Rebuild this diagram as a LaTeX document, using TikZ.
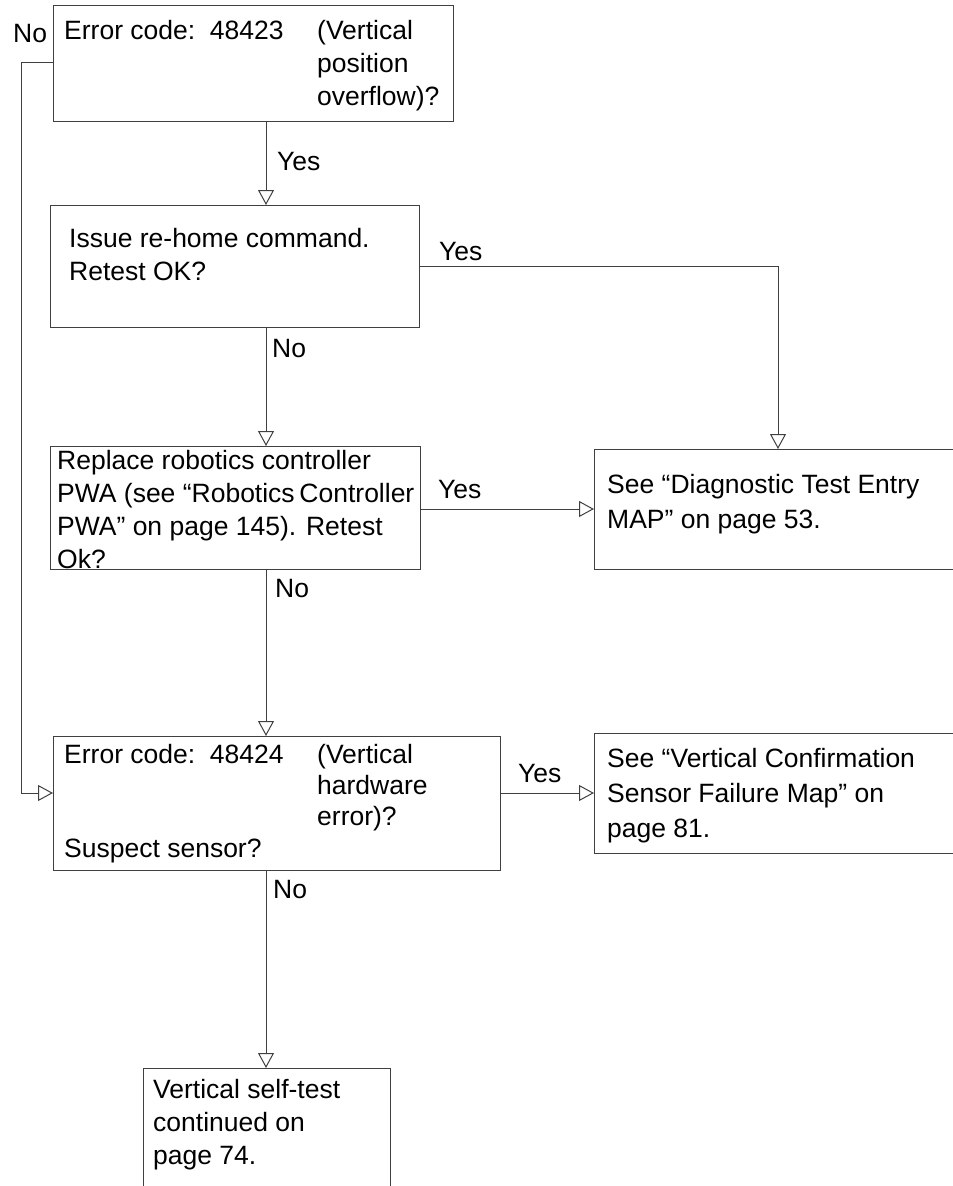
\documentclass[tikz,border=0pt]{standalone}
\usepackage{fontspec}
\setmainfont{Liberation Sans}
\usetikzlibrary{arrows.meta}
% left-aligned block whose baseline is the first line
\newcommand{\mylines}[1]{\begin{tabular}[t]{@{}l@{}}#1\end{tabular}}
\begin{document}
\begin{tikzpicture}[x=1pt,y=-1pt,
  box/.style={draw=black!75, line width=1pt, inner sep=0pt, anchor=north west},
  txt/.style={anchor=base west, inner sep=0pt, font=\fontsize{26.5}{33}\selectfont},
  lbl/.style={anchor=base west, inner sep=0pt, font=\fontsize{26.5}{33}\selectfont},
  link/.style={draw=black!75, line width=1pt, -{Triangle[open, width=16pt, length=15pt]}}]
\useasboundingbox (0,0) rectangle (953,1186);
\clip (0,0) rectangle (953,1186);

% boxes
\node[box, minimum width=400pt, minimum height=116pt] (b1) at (53,5) {};
\node[box, minimum width=369pt, minimum height=122pt] (b2) at (50,205) {};
\node[box, minimum width=370pt, minimum height=123pt] (b3) at (50,446) {};
\node[box, minimum width=400pt, minimum height=120pt] (diag) at (594,449) {};
\node[box, minimum width=447pt, minimum height=134pt] (b4) at (53,736) {};
\node[box, minimum width=400pt, minimum height=120pt] (sens) at (594,733) {};
\node[box, minimum width=247pt, minimum height=200pt] (b5) at (143,1068) {};

% box texts
\node[txt] (t1a) at (64,39) {Error code:\ \ 48423};
\node[txt] (t1b) at (317,39) {\mylines{(Vertical\\position\\overflow)?}};
\node[txt] (t2) at (69,247) {\mylines{Issue re-home command.\\Retest OK?}};
\node[txt] (t3) at (57,469) {\mylines{Replace robotics controller\\PWA (see “Robotics\hspace{-0.1em} Controller\\PWA” on page 145). Retest\\Ok?}};
\node[txt, font=\fontsize{26.5}{35}\selectfont] (td) at (607,493) {\mylines{See “Diagnostic Test Entry\\MAP” on page 53.}};
\node[txt, font=\fontsize{26.5}{35}\selectfont] (ts) at (607,767) {\mylines{See “Vertical Confirmation\\Sensor Failure Map” on\\page 81.}};
\node[txt] (t4a) at (64,763) {Error code:\ \ 48424};
\node[txt, font=\fontsize{26.5}{31}\selectfont] (t4b) at (317,763) {\mylines{(Vertical\\hardware\\error)?}};
\node[txt] (t4c) at (64,857) {Suspect sensor?};
\node[txt] (t5) at (153,1098) {\mylines{Vertical self-test\\continued on\\page 74.}};

% reference positions for the connectors
\coordinate (spine) at (266,0);
\coordinate (xr) at (778,0);
\coordinate (loopx) at (21,0);
\coordinate (y0) at (0,62);
\coordinate (y1) at (0,266);
\coordinate (y2) at (0,509);
\coordinate (y3) at (0,793);

% connectors
\draw[link] (spine |- b1.south) -- (spine |- b2.north);
\draw[link] (spine |- b2.south) -- (spine |- b3.north);
\draw[link] (spine |- b3.south) -- (spine |- b4.north);
\draw[link] (spine |- b4.south) -- (spine |- b5.north);
\draw[link] (b2.east |- y1) -| (xr |- diag.north);
\draw[link] (b3.east |- y2) -- (diag.west |- y2);
\draw[link] (b4.east |- y3) -- (sens.west |- y3);
\draw[link] (b1.west |- y0) -| (loopx |- y3) -- (b4.west |- y3);

% branch labels
\node[lbl] (l1) at (13,42) {No};
\node[lbl] (l2) at (277,170) {Yes};
\node[lbl] (l3) at (439,260) {Yes};
\node[lbl] (l4) at (272,357) {No};
\node[lbl] (l5) at (438,498) {Yes};
\node[lbl] (l6) at (275,597) {No};
\node[lbl] (l7) at (518,782) {Yes};
\node[lbl] (l8) at (273,898) {No};
\end{tikzpicture}
\end{document}
